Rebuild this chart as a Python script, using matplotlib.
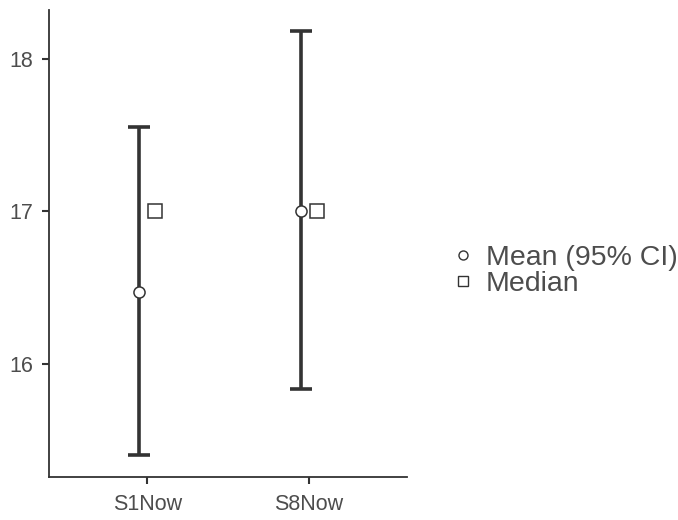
import matplotlib
matplotlib.use("Agg")
import matplotlib.pyplot as plt
from matplotlib.lines import Line2D

# Summary statistics per condition
categories = ["S1Now", "S8Now"]
means = [16.47, 17.00]
ci_lower = [15.40, 15.83]
ci_upper = [17.55, 18.18]
medians = [17.00, 17.00]
y_ticks = [16, 17, 18]

plt.rcParams["font.family"] = ["Liberation Sans", "DejaVu Sans"]

dark = "#333333"
label_col = "#4D4D4D"

fig = plt.figure(figsize=(6.78, 5.20), dpi=100)
ax = fig.add_axes([0.073, 0.0827, 0.527, 0.898])

pos = list(range(1, len(categories) + 1))
dodge = 0.05
mean_x = [p - dodge for p in pos]
med_x = [p + dodge for p in pos]

yerr = [[m - lo for m, lo in zip(means, ci_lower)],
        [hi - m for m, hi in zip(means, ci_upper)]]
ax.errorbar(mean_x, means, yerr=yerr, fmt="none", ecolor=dark,
            elinewidth=2.6, capsize=8, capthick=2.6, zorder=2)
ax.plot(mean_x, means, "o", ms=8, mfc="white", mec=dark, mew=1.1,
        linestyle="none", zorder=3)
ax.plot(med_x, medians, "s", ms=9.5, mfc="white", mec=dark, mew=1.1,
        linestyle="none", zorder=3)

ax.set_xlim(0.395, 2.605)
ax.set_ylim(15.256, 18.318)
ax.set_xticks(pos)
ax.set_xticklabels(categories)
ax.set_yticks(y_ticks)

for side in ("top", "right"):
    ax.spines[side].set_visible(False)
for side in ("left", "bottom"):
    ax.spines[side].set_color(dark)
    ax.spines[side].set_linewidth(1.3)

ax.tick_params(axis="both", direction="out", length=5, width=1.5,
               color=dark, labelcolor=label_col, labelsize=15.5, pad=7)

handles = [
    Line2D([], [], marker="o", ms=6.5, mfc="white", mec=dark, mew=1.0,
           linestyle="none", label="Mean (95% CI)"),
    Line2D([], [], marker="s", ms=7.5, mfc="white", mec=dark, mew=1.0,
           linestyle="none", label="Median"),
]
fig.legend(handles=handles, loc="center left",
           bbox_to_anchor=(0.645, 0.478), frameon=False,
           fontsize=20.5, labelcolor=label_col, handlelength=1.0,
           handletextpad=0.3, labelspacing=0.0, borderaxespad=0)

fig.savefig("out.png", dpi=100)
